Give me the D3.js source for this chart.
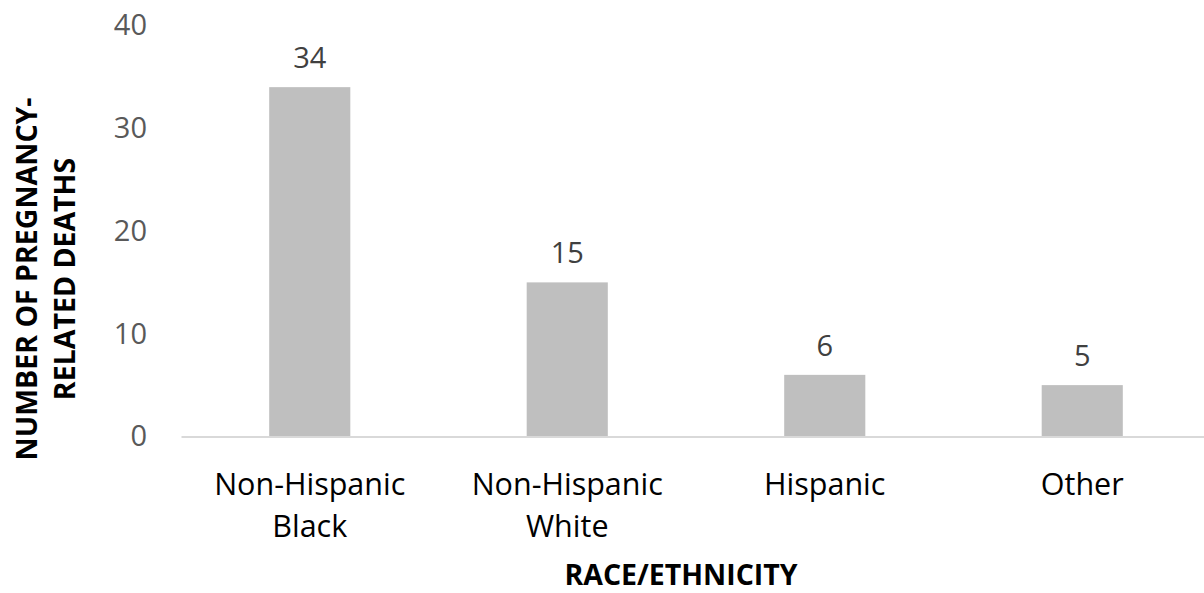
<!DOCTYPE html>
<html>
<head>
<meta charset="utf-8">
<script src="https://cdn.jsdelivr.net/npm/d3@7"></script>
<style>
  body { margin: 0; background: #fff; }
  text { font-family: "Open Sans", "Noto Sans", sans-serif; }
</style>
</head>
<body>
<svg id="chart"></svg>
<script>
// Data
const categories = [["Non-Hispanic", "Black"], ["Non-Hispanic", "White"], ["Hispanic"], ["Other"]];
const deaths = [34, 15, 6, 5];
const yTicks = [0, 10, 20, 30, 40];

const width = 1204, height = 593;

const svg = d3.select("#chart")
    .attr("width", width)
    .attr("height", height);

// X scale
const x = d3.scaleBand()
    .domain(d3.range(categories.length))
    .range([181, 1211])
    .paddingInner(0.685)
    .paddingOuter(0.3425);

// Y scale
const y = d3.scaleLinear()
    .domain([0, 40])
    .range([436.5, 25.5]);

// Y axis (labels only)
const yAxis = d3.axisLeft(y).tickValues(yTicks).tickSize(0).tickPadding(0);
const gy = svg.append("g")
    .attr("transform", "translate(147,0)")
    .call(yAxis);
gy.select(".domain").remove();
gy.selectAll("text")
    .attr("fill", "#595959")
    .style("font-size", "29px")
    .style("font-family", "'Open Sans', sans-serif");

// Bars
svg.selectAll(".bar")
    .data(deaths)
    .enter()
    .append("rect")
    .attr("class", "bar")
    .attr("x", (d, i) => x(i))
    .attr("width", x.bandwidth())
    .attr("y", d => y(d))
    .attr("height", d => y(0) - y(d))
    .attr("fill", "#bfbfbf");

// Baseline
const xAxis = d3.axisBottom(x).tickSize(0).tickFormat("");
const gx = svg.append("g")
    .attr("transform", `translate(0,${y(0)})`)
    .call(xAxis);
gx.select(".domain").attr("stroke", "#d9d9d9").attr("stroke-width", 2);

// Category labels
const cat = svg.selectAll(".cat")
    .data(categories)
    .enter()
    .append("text")
    .attr("class", "cat")
    .attr("text-anchor", "middle")
    .attr("fill", "#000")
    .style("font-size", "30.5px");
cat.selectAll("tspan")
    .data((d, i) => d.map(line => ({ line, i })))
    .enter()
    .append("tspan")
    .attr("x", d => x(d.i) + x.bandwidth() / 2)
    .attr("y", (d, j) => 495 + j * 42)
    .text(d => d.line);

// Data labels
svg.selectAll(".val")
    .data(deaths)
    .enter()
    .append("text")
    .attr("class", "val")
    .attr("x", (d, i) => x(i) + x.bandwidth() / 2)
    .attr("y", d => y(d) - 19)
    .attr("text-anchor", "middle")
    .attr("fill", "#404040")
    .style("font-size", "29px")
    .text(d => d);

// Axis titles
svg.append("text")
    .attr("x", 681)
    .attr("y", 585)
    .attr("text-anchor", "middle")
    .attr("fill", "#000")
    .style("font-size", "28.5px")
    .style("font-weight", "bold")
    .text("RACE/ETHNICITY");

const yt = svg.append("text")
    .attr("transform", "translate(0,279) rotate(-90)")
    .attr("text-anchor", "middle")
    .attr("fill", "#000")
    .style("font-size", "28.5px")
    .style("font-weight", "bold");
yt.append("tspan").attr("x", 0).attr("y", 37).text("NUMBER OF PREGNANCY-");
yt.append("tspan").attr("x", 0).attr("y", 75).text("RELATED DEATHS");
</script>
</body>
</html>
